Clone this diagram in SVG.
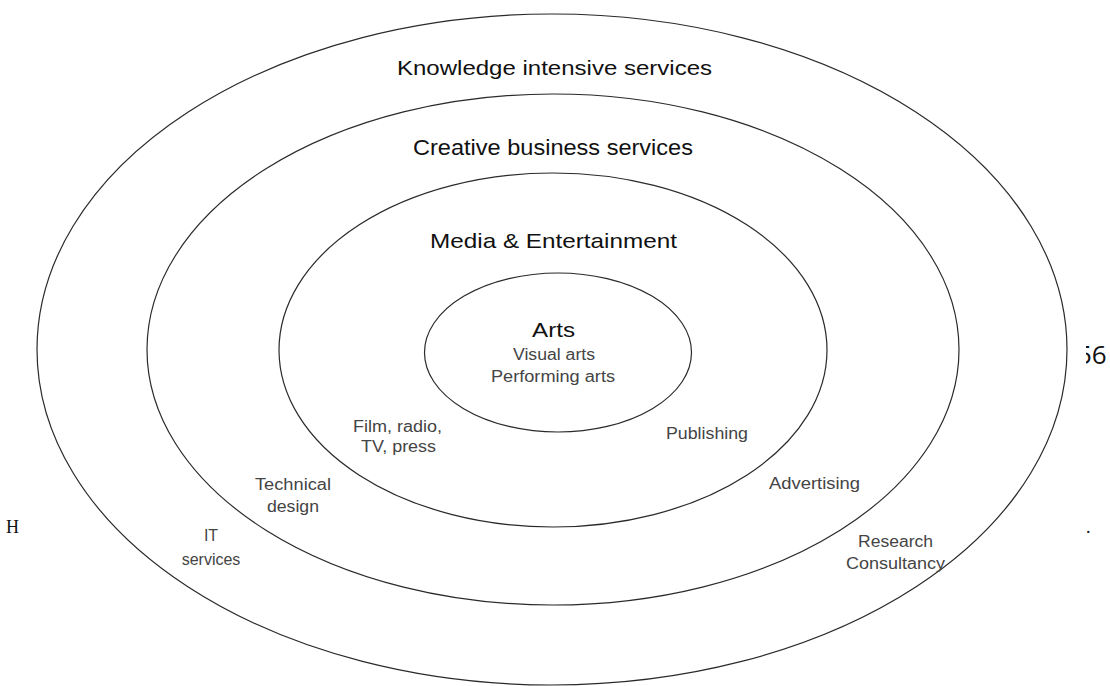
<svg xmlns="http://www.w3.org/2000/svg" width="1110" height="686" viewBox="0 0 1110 686">
<style>
.ring{fill:none;stroke:#2a2a2a;stroke-width:1.2}
.title{font-family:"Liberation Sans",Arial,sans-serif;fill:#111;text-anchor:middle}
.lbl{font-family:"Liberation Sans",Arial,sans-serif;fill:#444;font-size:16px;text-anchor:middle}
.stray{font-family:"Liberation Serif","Times New Roman",serif;fill:#111}
.num{font-family:"Open Sans","Liberation Sans",Arial,sans-serif;fill:#111}
</style>
<defs>
<clipPath id="clipR"><rect x="1086" y="320" width="24" height="60"/></clipPath>
</defs>
<rect width="1110" height="686" fill="#fff"/>
<g id="knowledge">
<ellipse class="ring" cx="552" cy="349.5" rx="515" ry="335.5"/>
<text class="title" x="554.5" y="75" font-size="21" textLength="315" lengthAdjust="spacingAndGlyphs">Knowledge intensive services</text>
<text class="lbl" x="211" y="541">IT</text>
<text class="lbl" x="211" y="565">services</text>
<text class="lbl" x="895.5" y="547" textLength="75" lengthAdjust="spacingAndGlyphs">Research</text>
<text class="lbl" x="895.5" y="569" textLength="99" lengthAdjust="spacingAndGlyphs">Consultancy</text>
</g>
<g id="creative">
<ellipse class="ring" cx="553" cy="349.5" rx="406" ry="255.5"/>
<text class="title" x="553" y="155" font-size="22" textLength="280" lengthAdjust="spacingAndGlyphs">Creative business services</text>
<text class="lbl" x="293" y="490" textLength="76" lengthAdjust="spacingAndGlyphs">Technical</text>
<text class="lbl" x="293" y="512" textLength="52" lengthAdjust="spacingAndGlyphs">design</text>
<text class="lbl" x="814.5" y="489" textLength="91" lengthAdjust="spacingAndGlyphs">Advertising</text>
</g>
<g id="media">
<ellipse class="ring" cx="553" cy="350" rx="274" ry="177"/>
<text class="title" x="553.5" y="248" font-size="21" textLength="247" lengthAdjust="spacingAndGlyphs">Media &amp; Entertainment</text>
<text class="lbl" x="397.5" y="432" textLength="89" lengthAdjust="spacingAndGlyphs">Film, radio,</text>
<text class="lbl" x="398.5" y="452" textLength="75" lengthAdjust="spacingAndGlyphs">TV, press</text>
<text class="lbl" x="707" y="439" textLength="82" lengthAdjust="spacingAndGlyphs">Publishing</text>
</g>
<g id="arts">
<ellipse class="ring" cx="558" cy="352.5" rx="133.5" ry="79.5"/>
<text class="title" x="553.5" y="337" font-size="20" textLength="43" lengthAdjust="spacingAndGlyphs">Arts</text>
<text class="lbl" x="554" y="360" textLength="82" lengthAdjust="spacingAndGlyphs">Visual arts</text>
<text class="lbl" x="553" y="382" textLength="124" lengthAdjust="spacingAndGlyphs">Performing arts</text>
</g>
<g id="connectors"></g>
<g id="edge-fragments">
<text class="num" x="1077" y="364" font-size="26" clip-path="url(#clipR)">56</text>
<text class="stray" x="6" y="533" font-size="18">H</text>
<text class="stray" x="1086" y="533" font-size="18">.</text>
</g>
</svg>
